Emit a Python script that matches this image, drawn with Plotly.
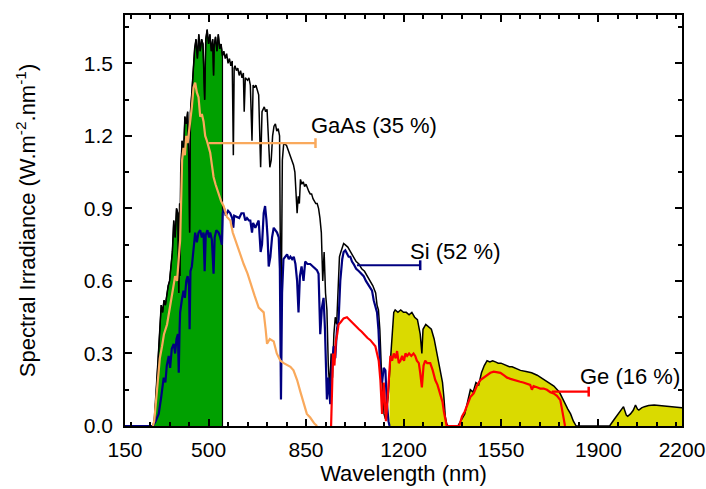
import plotly.graph_objects as go

# ---------------- data ----------------
SUN_NM = [200, 280, 300, 305, 310, 315, 320, 325, 330, 335, 340, 345, 350, 355, 360, 365, 370, 375, 380, 385,
          390, 393, 396, 397, 400, 405, 410, 415, 420, 425, 430, 432, 435, 440, 445, 450, 455, 460, 465, 470,
          475, 480, 486, 490, 495, 500, 505, 510, 515, 518, 520, 525, 530, 535, 540, 545, 550, 555, 560, 565,
          570, 575, 580, 585, 589, 592, 595, 600, 605, 610, 615, 620, 625, 628, 632, 640, 645, 650, 656, 660,
          665, 670, 675, 680, 687, 692, 700, 705, 710, 715, 720, 725, 730, 735, 740, 745, 750, 755, 760, 765,
          770, 780, 790, 800, 805, 810, 815, 818, 822, 826, 830, 835, 840, 845, 850, 855, 860, 865, 870, 875,
          880, 885, 890, 895, 900, 905, 910, 915, 920, 925, 930, 935, 940, 945, 950, 955, 960, 965, 970, 975,
          980, 985, 990, 1000, 1010, 1020, 1030, 1040, 1050, 1060, 1070, 1080, 1090, 1100, 1105, 1110, 1115, 1120, 1125, 1130,
          1135, 1140, 1145, 1150, 1155, 1160, 1165, 1170, 1180, 1190, 1200, 1210, 1220, 1230, 1240, 1250, 1260, 1266, 1270, 1280,
          1290, 1300, 1310, 1320, 1330, 1340, 1345, 1350, 1355, 1360, 1395, 1400, 1410, 1420, 1430, 1440, 1450, 1460, 1470, 1480,
          1490, 1500, 1510, 1520, 1530, 1540, 1550, 1560, 1570, 1580, 1590, 1600, 1620, 1640, 1660, 1680, 1700, 1720, 1740, 1760,
          1770, 1780, 1790, 1800, 1810, 1820, 1940, 1955, 1970, 1980, 1990, 2000, 2005, 2015, 2025, 2033, 2040, 2045, 2055, 2065,
          2080, 2100, 2120, 2140, 2160, 2180, 2200]
SUN_IRR = [0.0, 0.0, 0.0, 0.02, 0.10, 0.20, 0.30, 0.40, 0.50, 0.47, 0.52, 0.50, 0.55, 0.58, 0.60, 0.68, 0.72, 0.85, 0.78, 0.90,
           0.88, 0.55, 0.92, 0.62, 1.05, 1.18, 1.12, 1.28, 1.25, 1.30, 1.05, 0.80, 1.30, 1.38, 1.48, 1.56, 1.60, 1.52, 1.62, 1.55,
           1.60, 1.58, 1.35, 1.60, 1.64, 1.58, 1.62, 1.55, 1.60, 1.45, 1.57, 1.61, 1.55, 1.62, 1.56, 1.58, 1.53, 1.55, 1.52, 1.54,
           1.50, 1.52, 1.49, 1.51, 1.12, 1.48, 1.49, 1.47, 1.48, 1.45, 1.47, 1.44, 1.46, 1.30, 1.44, 1.43, 1.44, 1.41, 1.18, 1.41,
           1.40, 1.41, 1.39, 1.37, 1.07, 1.30, 1.32, 1.30, 1.31, 1.20, 1.07, 1.10, 1.20, 1.24, 1.25, 1.22, 1.23, 1.20, 0.35, 1.10,
           1.17, 1.16, 1.13, 1.10, 1.08, 1.05, 0.95, 0.88, 0.95, 0.92, 1.02, 1.00, 1.01, 0.99, 1.00, 0.98, 0.97, 0.96, 0.96, 0.94,
           0.93, 0.92, 0.92, 0.90, 0.86, 0.80, 0.60, 0.72, 0.55, 0.48, 0.25, 0.15, 0.30, 0.20, 0.38, 0.45, 0.42, 0.60, 0.70, 0.72,
           0.74, 0.755, 0.75, 0.74, 0.72, 0.70, 0.68, 0.67, 0.65, 0.64, 0.62, 0.60, 0.58, 0.55, 0.50, 0.48, 0.40, 0.25, 0.12, 0.05,
           0.03, 0.08, 0.12, 0.22, 0.31, 0.40, 0.47, 0.48, 0.47, 0.48, 0.47, 0.47, 0.46, 0.47, 0.45, 0.44, 0.38, 0.30, 0.40, 0.42,
           0.41, 0.40, 0.36, 0.30, 0.25, 0.18, 0.12, 0.04, 0.01, 0.0, 0.0, 0.01, 0.03, 0.05, 0.10, 0.15, 0.14, 0.18, 0.17, 0.22,
           0.25, 0.27, 0.265, 0.27, 0.265, 0.26, 0.26, 0.255, 0.25, 0.245, 0.245, 0.24, 0.23, 0.225, 0.22, 0.21, 0.195, 0.18, 0.165, 0.14,
           0.115, 0.09, 0.07, 0.05, 0.02, 0.0, 0.0, 0.025, 0.05, 0.066, 0.08, 0.045, 0.04, 0.05, 0.065, 0.087, 0.07, 0.066, 0.075, 0.08,
           0.085, 0.087, 0.085, 0.083, 0.082, 0.08, 0.075]

GAAS_NM = [300, 305, 315, 325, 333, 340, 351, 360, 368, 374, 380, 387, 393, 398, 402, 405, 410, 415, 420, 425,
           430, 435, 440, 446, 452, 458, 464, 470, 476, 482, 488, 494, 500, 506, 512, 518, 525, 536, 545, 554,
           566, 578, 587, 596, 605, 615, 626, 640, 650, 665, 680, 690, 698, 705, 710, 720, 734, 745, 758, 770,
           785, 794, 805, 818, 830, 841, 853, 865, 880, 890]
GAAS_IRR = [0.0, 0.02, 0.15, 0.28, 0.33, 0.38, 0.42, 0.48, 0.55, 0.58, 0.62, 0.60, 0.70, 0.77, 0.95, 1.10, 1.15, 1.12, 1.20, 1.17,
            1.22, 1.26, 1.32, 1.40, 1.42, 1.38, 1.36, 1.28, 1.29, 1.26, 1.20, 1.18, 1.15, 1.13, 1.08, 1.03, 1.00, 0.96, 0.93, 0.91,
            0.865, 0.85, 0.80, 0.77, 0.74, 0.70, 0.67, 0.63, 0.59, 0.54, 0.49, 0.48, 0.47, 0.40, 0.34, 0.36, 0.35, 0.30, 0.27, 0.26,
            0.25, 0.245, 0.23, 0.19, 0.14, 0.094, 0.05, 0.035, 0.01, 0.0]

SI_NM = [200, 300, 310, 321, 330, 339, 345, 350, 357, 362, 368, 375, 380, 385, 390, 393, 396, 398, 404, 410,
         415, 420, 425, 430, 432, 435, 440, 445, 452, 458, 464, 470, 476, 482, 486, 490, 496, 502, 506, 512,
         518, 522, 528, 536, 542, 548, 551, 556, 562, 570, 578, 585, 589, 592, 602, 610, 618, 626, 632, 638,
         645, 650, 656, 660, 668, 675, 680, 687, 692, 698, 703, 708, 712, 716, 722, 728, 734, 740, 746, 752,
         756, 760, 764, 769, 775, 782, 788, 794, 800, 806, 812, 818, 823, 828, 834, 841, 847, 855, 865, 875,
         882, 889, 895, 901, 907, 913, 918, 925, 930, 937, 943, 949, 955, 961, 967, 973, 980, 985, 991, 997,
         1003, 1009, 1015, 1021, 1030, 1040, 1050, 1057, 1065, 1075, 1087, 1093, 1100, 1105, 1110, 1117, 1123, 1129, 1135, 1140,
         1146, 1150]
SI_IRR = [0.0, 0.0, 0.02, 0.05, 0.12, 0.20, 0.18, 0.25, 0.29, 0.24, 0.32, 0.34, 0.30, 0.36, 0.38, 0.22, 0.40, 0.47, 0.52, 0.56,
          0.53, 0.60, 0.62, 0.58, 0.40, 0.64, 0.66, 0.72, 0.80, 0.76, 0.80, 0.81, 0.78, 0.80, 0.64, 0.79, 0.81, 0.78, 0.80, 0.77,
          0.63, 0.78, 0.81, 0.80, 0.78, 0.75, 0.88, 0.90, 0.87, 0.89, 0.88, 0.86, 0.82, 0.87, 0.865, 0.86, 0.88, 0.88, 0.85, 0.86,
          0.85, 0.85, 0.80, 0.84, 0.82, 0.84, 0.85, 0.72, 0.75, 0.88, 0.91, 0.85, 0.78, 0.66, 0.70, 0.78, 0.82, 0.81, 0.80, 0.78,
          0.65, 0.11, 0.55, 0.69, 0.70, 0.71, 0.69, 0.70, 0.69, 0.70, 0.67, 0.60, 0.47, 0.62, 0.66, 0.60, 0.68, 0.67, 0.67, 0.66,
          0.65, 0.645, 0.63, 0.38, 0.49, 0.53, 0.40, 0.11, 0.20, 0.09, 0.25, 0.33, 0.28, 0.40, 0.44, 0.60, 0.69, 0.72, 0.727, 0.71,
          0.70, 0.70, 0.68, 0.67, 0.65, 0.64, 0.63, 0.62, 0.60, 0.58, 0.56, 0.52, 0.49, 0.47, 0.40, 0.22, 0.18, 0.24, 0.23, 0.10,
          0.02, 0.0]

GE_NM = [940, 943, 947, 952, 957, 962, 967, 975, 985, 997, 1005, 1013, 1021, 1030, 1040, 1050, 1057, 1070, 1081, 1090,
         1099, 1105, 1111, 1117, 1120, 1123, 1126, 1129, 1133, 1137, 1141, 1145, 1149, 1153, 1159, 1165, 1172, 1177, 1183, 1189,
         1195, 1202, 1207, 1213, 1220, 1228, 1236, 1242, 1248, 1255, 1260, 1266, 1272, 1278, 1285, 1296, 1305, 1314, 1322, 1332,
         1340, 1345, 1350, 1355, 1400, 1410, 1420, 1430, 1440, 1452, 1465, 1476, 1488, 1500, 1512, 1524, 1536, 1548, 1560, 1572,
         1584, 1596, 1608, 1619, 1630, 1642, 1655, 1661, 1667, 1679, 1691, 1703, 1715, 1727, 1739, 1751, 1763, 1769, 1775, 1780]
GE_IRR = [0.0, 0.15, 0.30, 0.25, 0.35, 0.38, 0.42, 0.43, 0.445, 0.45, 0.44, 0.43, 0.42, 0.41, 0.40, 0.39, 0.38, 0.365, 0.355, 0.34,
          0.33, 0.30, 0.27, 0.19, 0.10, 0.05, 0.12, 0.18, 0.10, 0.02, 0.08, 0.15, 0.22, 0.29, 0.27, 0.30, 0.28, 0.31, 0.26, 0.27,
          0.29, 0.27, 0.30, 0.29, 0.30, 0.29, 0.30, 0.29, 0.27, 0.26, 0.22, 0.16, 0.25, 0.27, 0.26, 0.26, 0.23, 0.19, 0.17, 0.135,
          0.10, 0.06, 0.02, 0.0, 0.0, 0.04, 0.06, 0.09, 0.12, 0.135, 0.17, 0.19, 0.20, 0.21, 0.22, 0.225, 0.224, 0.22, 0.21, 0.20,
          0.195, 0.19, 0.185, 0.183, 0.18, 0.175, 0.17, 0.15, 0.165, 0.16, 0.155, 0.155, 0.15, 0.14, 0.135, 0.125, 0.107, 0.07, 0.025, 0.0]

# band-gap shaded regions (nm)
GREEN_RANGE = [300, 550]
YELLOW_START = 1150

# labels: text, leader line start/end (nm), leader y, text anchor (nm, value)
LABEL_TEXT = ["GaAs (35 %)", "Si (52 %)", "Ge (16 %)"]
LEADER_X0 = [500, 1033, 1733]
LEADER_X1 = [884, 1260, 1865]
LEADER_Y = [1.17, 0.665, 0.142]
TEXT_X = [859, 1215, 1825]
TEXT_Y = [1.245, 0.72, 0.205]

X_TICKS = [200, 500, 850, 1200, 1550, 1900, 2200]
X_TICK_TEXT = ["150", "500", "850", "1200", "1550", "1900", "2200"]
Y_TICKS = [0.0, 0.3, 0.6, 0.9, 1.2, 1.5]

# ---------------- styles ----------------
BLACK = "#000000"
GREEN = "#00A000"
YELLOW = "#DADA00"
ORANGE = "#F9A95C"
NAVY = "#000080"
RED = "#FF0000"
LABEL_COLORS = [ORANGE, NAVY, RED]
FONT = "Liberation Sans, Arial, sans-serif"

fig = go.Figure()

# green fill (GaAs region)
gx = [x for x in SUN_NM if GREEN_RANGE[0] <= x <= GREEN_RANGE[1]]
gy = [y for x, y in zip(SUN_NM, SUN_IRR) if GREEN_RANGE[0] <= x <= GREEN_RANGE[1]]
fig.add_trace(go.Scatter(x=gx + [gx[-1]], y=gy + [0], mode="lines", fill="tozeroy",
                         fillcolor=GREEN, line=dict(color=BLACK, width=1.2), hoverinfo="skip"))
# yellow fill (IR region)
yx = [x for x in SUN_NM if x >= YELLOW_START]
yy = [y for x, y in zip(SUN_NM, SUN_IRR) if x >= YELLOW_START]
fig.add_trace(go.Scatter(x=yx, y=yy, mode="lines", fill="tozeroy",
                         fillcolor=YELLOW, line=dict(color=BLACK, width=0), hoverinfo="skip"))
# solar spectrum
fig.add_trace(go.Scatter(x=SUN_NM, y=SUN_IRR, mode="lines", line=dict(color=BLACK, width=1.5)))
# cells
fig.add_trace(go.Scatter(x=SI_NM, y=SI_IRR, mode="lines", line=dict(color=NAVY, width=2.2)))
fig.add_trace(go.Scatter(x=GAAS_NM, y=GAAS_IRR, mode="lines", line=dict(color=ORANGE, width=2.2)))
fig.add_trace(go.Scatter(x=GE_NM, y=GE_IRR, mode="lines", line=dict(color=RED, width=2.2)))

# leader lines and labels
for txt, x0, x1, ly, tx, ty, c in zip(LABEL_TEXT, LEADER_X0, LEADER_X1, LEADER_Y, TEXT_X, TEXT_Y, LABEL_COLORS):
    fig.add_trace(go.Scatter(x=[x0, x1], y=[ly, ly], mode="lines", line=dict(color=c, width=2.2)))
    fig.add_trace(go.Scatter(x=[x1], y=[ly], mode="markers",
                             marker=dict(symbol="line-ns", size=7, line=dict(color=c, width=2.5))))
    fig.add_annotation(x=tx, y=ty, text=txt, showarrow=False, xanchor="left", yanchor="middle",
                       font=dict(family=FONT, size=22, color="#000000"))

axis_common = dict(showline=True, linecolor=BLACK, linewidth=1.5, mirror="ticks",
                   ticks="inside", tickcolor=BLACK, tickwidth=1.5, ticklen=7,
                   showgrid=False, zeroline=False, automargin=False,
                   tickfont=dict(family=FONT, size=21, color="#000000"))

fig.update_xaxes(range=[200, 2200], tickmode="array", tickvals=X_TICKS, ticktext=X_TICK_TEXT,
                 minor=dict(tickmode="linear", tick0=500, dtick=70, ticks="inside", ticklen=4,
                            tickcolor=BLACK, tickwidth=1.5),
                 title=dict(text="Wavelength (nm)", font=dict(family=FONT, size=22, color="#000000"), standoff=6),
                 ticklabelstandoff=4,
                 **axis_common)
fig.update_yaxes(range=[0, 1.70], tickmode="array", tickvals=Y_TICKS, tickformat=".1f",
                 minor=dict(tickmode="linear", tick0=0, dtick=0.15, ticks="inside", ticklen=4,
                            tickcolor=BLACK, tickwidth=1.5),
                 title=dict(text="Spectral Irradiance (W.m<sup>-2</sup>.nm<sup>-1</sup>)",
                            font=dict(family=FONT, size=22, color="#000000"), standoff=42),
                 ticklabelstandoff=6,
                 **axis_common)

fig.update_layout(width=706, height=489, margin=dict(l=125, r=24, t=15, b=63),
                  plot_bgcolor="white", paper_bgcolor="white", showlegend=False,
                  font=dict(family=FONT))

fig.write_html("out.html", include_plotlyjs=True, config={"displayModeBar": False})
